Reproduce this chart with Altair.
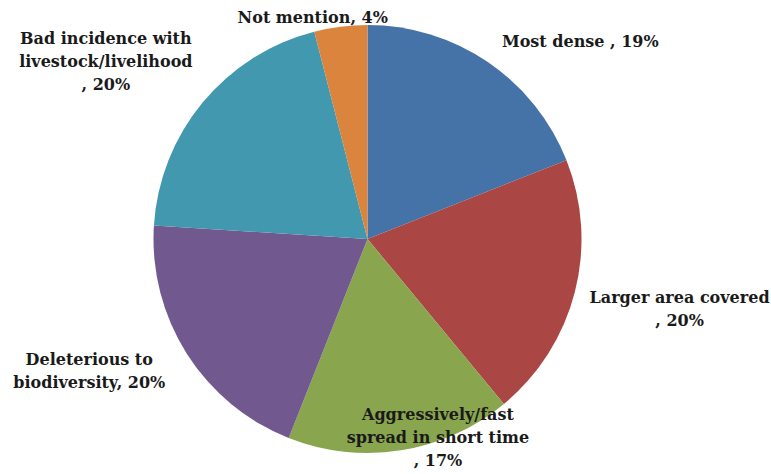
import altair as alt
import pandas as pd

# Reasons given for the weed being a problem (share of respondents, %)
categories = [
    "Most dense",
    "Larger area covered",
    "Aggressively/fast spread in short time",
    "Deleterious to biodiversity",
    "Bad incidence with livestock/livelihood",
    "Not mention",
]
shares = [19, 20, 17, 20, 20, 4]
label_text = [
    "Most dense , 19%",
    "Larger area covered\n, 20%",
    "Aggressively/fast\nspread in short time\n, 17%",
    "Deleterious to\nbiodiversity, 20%",
    "Bad incidence with\nlivestock/livelihood\n, 20%",
    "Not mention, 4%",
]

# Styling and label layout
colors = ["#4572A7", "#AA4643", "#89A54E", "#71588F", "#4198AF", "#DB843D"]
label_radius = [290, 320, 211, 308, 316, 228]      # px from pie centre
label_shift = [13.0, -1.6, -10.5, 7.0, -5.5, -6.7]  # deg from slice middle

W, H = 735, 470
CX, CY = W / 2, H / 2
PIE_R = 214
LINE_H = 23

df = pd.DataFrame({
    "category": categories,
    "share": shares,
    "label": label_text,
    "order": list(range(len(categories))),
    "rad": label_radius,
    "shift": label_shift,
})

base = alt.Chart(df)

pie = base.mark_arc(outerRadius=PIE_R).encode(
    theta=alt.Theta("share:Q", stack=True),
    order=alt.Order("order:Q"),
    color=alt.Color("category:N",
                    scale=alt.Scale(domain=categories, range=colors),
                    legend=None),
)

# Label anchor: slice middle angle, nudged, at a per-label distance;
# multi-line blocks are centred vertically on that anchor.
labels = base.transform_joinaggregate(
    total="sum(share)"
).transform_window(
    cum="sum(share)", sort=[{"field": "order"}], frame=[None, 0]
).transform_calculate(
    mid="(datum.cum - datum.share / 2) / datum.total * 2 * PI + datum.shift * PI / 180",
    nlines="length(split(datum.label, '\\n'))",
).transform_calculate(
    lx=f"{CX} + datum.rad * sin(datum.mid)",
    ly=f"{CY} - datum.rad * cos(datum.mid) - (datum.nlines - 1) * {LINE_H} / 2",
).mark_text(
    font="DejaVu Serif",
    fontWeight="bold",
    fontSize=16,
    lineHeight=LINE_H,
    lineBreak="\n",
    align="center",
    baseline="middle",
    color="#1a1a1a",
).encode(
    x=alt.X("lx:Q", scale=None, axis=None),
    y=alt.Y("ly:Q", scale=None, axis=None),
    text="label:N",
)

chart = alt.layer(pie, labels).properties(
    width=W,
    height=H,
    autosize="none",
    padding={"left": 0, "top": 4, "right": 36, "bottom": 0},
    background="white",
).configure_view(stroke=None)

chart.save("out.html", embed_options={"renderer": "svg", "actions": False})
